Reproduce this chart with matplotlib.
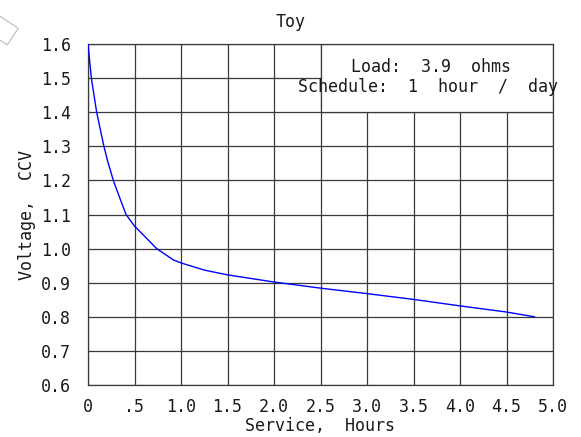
"""Toy battery discharge curve: CCV vs service hours."""

import matplotlib

matplotlib.use("Agg")
import matplotlib.pyplot as plt
from matplotlib.patches import Polygon, Rectangle

# data
hours = [0.0, 0.036, 0.093, 0.171, 0.208, 0.272, 0.337, 0.409, 0.5, 0.613,
         0.738, 0.917, 1.0, 1.25, 1.5, 2.0, 2.5, 3.0, 3.5, 4.0, 4.5, 4.8]
volts = [1.6, 1.5, 1.4, 1.3, 1.26, 1.2, 1.152, 1.1, 1.066, 1.035,
         1.0, 0.967, 0.958, 0.937, 0.923, 0.902, 0.884, 0.868, 0.851, 0.832,
         0.814, 0.80]

x_ticks = [0.0, 0.5, 1.0, 1.5, 2.0, 2.5, 3.0, 3.5, 4.0, 4.5, 5.0]
x_labels = ["0", ".5", "1.0", "1.5", "2.0", "2.5", "3.0", "3.5", "4.0", "4.5", "5.0"]
y_ticks = [0.6, 0.7, 0.8, 0.9, 1.0, 1.1, 1.2, 1.3, 1.4, 1.5, 1.6]
y_labels = [f"{v:.1f}" for v in y_ticks]

FONT = {"family": "DejaVu Sans Mono", "size": 12, "color": "#1a1a1a"}
GRID = "#3a3a3a"

W, H = 581, 437
fig = plt.figure(figsize=(W / 100, H / 100), dpi=100)
ax = fig.add_axes([88 / W, 1 - 385 / H, (553 - 88) / W, (385 - 44) / H])

ax.plot(hours, volts, color="#0000ff", linewidth=1.0, zorder=4)

ax.set_xlim(0, 5.0)
ax.set_ylim(0.6, 1.6)
ax.set_xticks(x_ticks)
ax.set_xticklabels(x_labels, fontdict=FONT)
ax.set_yticks(y_ticks)
ax.set_yticklabels(y_labels, fontdict=FONT)
ax.tick_params(axis="both", length=0)
ax.tick_params(axis="x", pad=9)
ax.tick_params(axis="y", pad=12)
ax.grid(True, color=GRID, linewidth=0.9)
ax.set_axisbelow(True)
for spine in ax.spines.values():
    spine.set_color(GRID)
    spine.set_linewidth(0.9)

# legend-like box in the upper right cell block
ax.add_patch(Rectangle((2.5, 1.4), 2.5, 0.2, facecolor="white",
                       edgecolor="none", zorder=1.5))
ax.add_patch(Rectangle((2.5, 1.4), 2.5, 0.2, facecolor="none",
                       edgecolor=GRID, linewidth=0.9, zorder=3))
fig.text(351 / W, 1 - 67 / H, "Load:  3.9  ohms", ha="left", va="center",
         fontdict=FONT, zorder=2)
fig.text(298 / W, 1 - 87 / H, "Schedule:  1  hour  /  day", ha="left",
         va="center", fontdict=FONT, zorder=2)

fig.text(0.5, 1 - 22 / H, "Toy", ha="center", va="center", fontdict=FONT)
fig.text(320 / W, 1 - 426 / H, "Service,  Hours", ha="center", va="center",
         fontdict=FONT)
fig.text(27 / W, 1 - 215 / H, "Voltage,  CCV", ha="center", va="center",
         rotation=90, fontdict=FONT)

# faint rotated square at the top-left corner
corner = [(-2.6, 14.6), (18.3, 28.3), (7.3, 45.0), (-13.6, 31.2)]
fig.add_artist(Polygon([(x / W, 1 - y / H) for x, y in corner], closed=True,
                       fill=False, edgecolor="#c8c8c8", linewidth=1.0,
                       transform=fig.transFigure))

fig.savefig("out.png", dpi=100)
